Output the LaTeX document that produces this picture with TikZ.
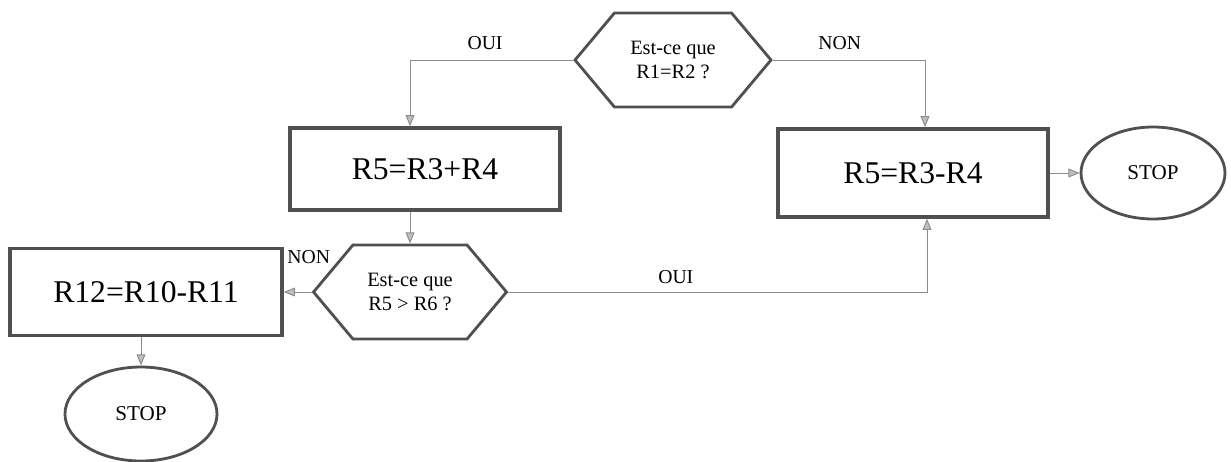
\documentclass[tikz,border=0pt]{standalone}
\usepackage{fontspec}
\setmainfont{Liberation Serif}
\usetikzlibrary{positioning,shapes.geometric,shapes.symbols,arrows.meta}
\definecolor{edgegray}{HTML}{8C8C8C}
\definecolor{framegray}{HTML}{505050}
\tikzset{
  opbox/.style={draw=framegray, line width=2.4pt, minimum width=67.5mm, minimum height=21mm, align=center, font=\fontsize{22.5}{26}\selectfont},
  test/.style={draw=framegray, line width=2pt, signal, signal to=west and east, signal pointer angle=100, minimum width=49mm, minimum height=23.5mm, inner sep=0pt, align=center, font=\fontsize{14.5}{17}\selectfont},
  halt/.style={draw=framegray, line width=2pt, ellipse, minimum width=36mm, minimum height=23mm, font=\fontsize{15}{17}\selectfont},
  arrow/.style={-{Triangle[length=2.8mm, width=2.2mm, fill=black!25]}, draw=edgegray, line width=0.7pt},
  lbl/.style={font=\fontsize{14}{16}\selectfont, inner sep=1pt}
}
\begin{document}
\begin{tikzpicture}[x=0.25mm, y=-0.25mm]
  \useasboundingbox (0,0) rectangle (1231,461);

  \node[test] (q1) at (673,60) {Est-ce que\\R1=R2 ?};
  \node[opbox, minimum height=20.5mm] (b1) at (425,169) {R5=R3+R4};
  \node[opbox, minimum height=22mm] (b2) at (913,173) {R5=R3-R4};
  \node[halt] (s1) at (1153,173) {STOP};
  \node[test, minimum width=48.25mm] (q2) at (410,292) {Est-ce que\\R5 > R6 ?};
  \node[opbox, minimum width=68mm, minimum height=21.75mm] (b3) at (146,292) {R12=R10-R11};
  \node[halt, minimum width=38mm, minimum height=23.5mm] (s2) at (141,414) {STOP};

  \draw[arrow] (q1.west) -| node[lbl, above=2mm, pos=0.27] {OUI} (q2.north |- b1.north);
  \draw[arrow] (q1.east) -| node[lbl, above=2mm, pos=0.22] {NON} ([xshift=3mm]b2.north);
  \draw[arrow] (q2.north |- b1.south) -- (q2.north);
  \draw[arrow] (q2.west) -- (b3.east);
  \draw[arrow] (q2.east) -| node[lbl, above=1.5mm, pos=0.2] {OUI} ([xshift=3.5mm]b2.south);
  \draw[arrow] (b2.east) -- (s1.west);
  \draw[arrow] (b3.south -| s2.north) -- (s2.north);

  \node[lbl, below right=0.5mm and 0.5mm of b3.north east] {NON};
\end{tikzpicture}
\end{document}
